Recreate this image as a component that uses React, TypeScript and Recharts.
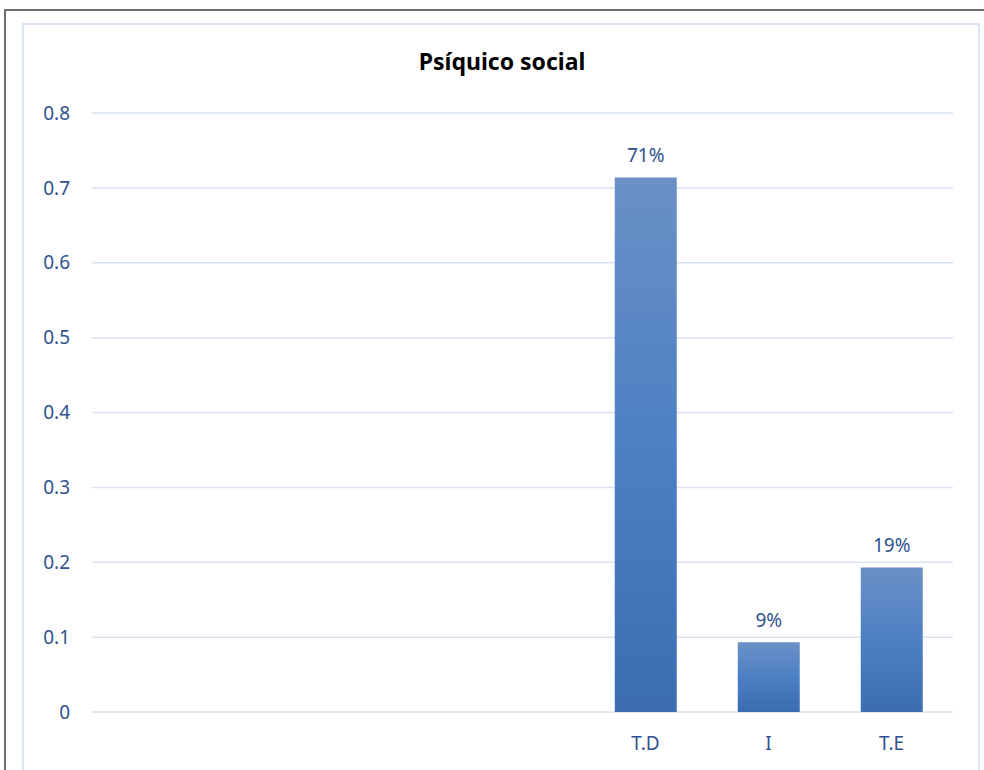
import React from 'react';
import { BarChart, Bar, XAxis, YAxis, CartesianGrid, LabelList } from 'recharts';

const categories = ['', '', '', '', 'T.D', 'I', 'T.E'];
const values = [null, null, null, null, 0.714, 0.093, 0.193];
const yTicks = [0, 0.1, 0.2, 0.3, 0.4, 0.5, 0.6, 0.7, 0.8];

const chartData = categories.map((name, i) => ({ name, value: values[i] }));

const FONT = '"Noto Sans", sans-serif';
const TEXT_BLUE = '#2f528f';

const formatPercent = (v: any) => (v == null ? '' : `${Math.round(v * 100)}%`);

export default function App() {
  return (
    <div style={{ position: 'absolute', left: 0, top: 0, width: 984, height: 770, background: '#fff', overflow: 'hidden' }}>
      {/* outer frame */}
      <div style={{ position: 'absolute', left: 4, top: 9, width: 990, height: 780, borderTop: '2px solid #6f6f6f', borderLeft: '2px solid #6f6f6f' }} />
      {/* chart area border */}
      <div style={{ position: 'absolute', left: 22, top: 23, width: 958, height: 760, border: '2px solid #dae5f3', boxSizing: 'border-box' }} />

      <div style={{ position: 'absolute', left: 0, top: 45, width: 1004, textAlign: 'center', fontFamily: FONT, fontWeight: 700, fontSize: 23, color: '#000' }}>
        Psíquico social
      </div>

      <div style={{ position: 'absolute', left: 0, top: 0 }}>
        <BarChart
          width={984}
          height={770}
          data={chartData}
          margin={{ top: 113, right: 31, bottom: 28, left: 32 }}
          barCategoryGap="25%"
        >
          <defs>
            <linearGradient id="barFill" x1="0" y1="0" x2="0" y2="1">
              <stop offset="0%" stopColor="#6a90c6" />
              <stop offset="50%" stopColor="#4c80c4" />
              <stop offset="100%" stopColor="#3b6db0" />
            </linearGradient>
          </defs>
          <CartesianGrid vertical={false} stroke="#d9e3f1" strokeWidth={1.5} />
          <XAxis
            dataKey="name"
            axisLine={false}
            tickLine={false}
            height={30}
            tickMargin={19}
            interval={0}
            tick={{ fill: TEXT_BLUE, fontSize: 19, fontFamily: FONT }}
          />
          <YAxis
            width={60}
            domain={[0, 0.8]}
            ticks={yTicks}
            axisLine={false}
            tickLine={false}
            tickMargin={16}
            tick={{ fill: TEXT_BLUE, fontSize: 19, fontFamily: FONT }}
          />
          <Bar dataKey="value" fill="url(#barFill)" isAnimationActive={false}>
            <LabelList
              dataKey="value"
              position="top"
              offset={15}
              formatter={formatPercent}
              style={{ fill: TEXT_BLUE, fontSize: 19, fontFamily: FONT }}
            />
          </Bar>
        </BarChart>
      </div>
    </div>
  );
}
